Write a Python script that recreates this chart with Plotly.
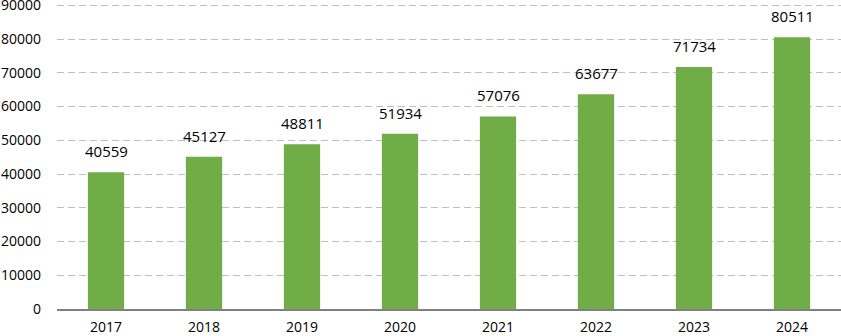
import plotly.graph_objects as go

years = ["2017", "2018", "2019", "2020", "2021", "2022", "2023", "2024"]
values = [40559, 45127, 48811, 51934, 57076, 63677, 71734, 80511]
y_ticks = [0, 10000, 20000, 30000, 40000, 50000, 60000, 70000, 80000, 90000]

fig = go.Figure(go.Bar(
    x=years, y=values,
    marker=dict(color="#70AD47", line=dict(width=0)),
    hoverinfo="x+y",
))
for i, v in enumerate(values):
    fig.add_annotation(x=i, y=v, text=str(v), showarrow=False,
                       yanchor="bottom", yshift=9,
                       font=dict(size=15, color="#000000"))

fig.update_layout(
    width=841, height=336,
    margin=dict(l=57, r=0, t=4, b=27, autoexpand=False),
    paper_bgcolor="white", plot_bgcolor="white",
    font=dict(family="Open Sans", size=15, color="#000000"),
    bargap=0.63,
    showlegend=False,
    xaxis=dict(type="category", range=[-0.5, len(years) - 0.5],
               showline=True, linecolor="#808080", linewidth=1.5, ticks="",
               ticklabelstandoff=4, showgrid=False, automargin=False,
               ticklabeloverflow="allow", tickfont=dict(size=14)),
    yaxis=dict(range=[0, 90400], tickvals=y_ticks, ticktext=[str(t) for t in y_ticks],
               showgrid=True, gridcolor="#BFBFBF", gridwidth=1, griddash="7px,4px",
               zeroline=False, ticks="", ticklabelstandoff=15, showline=False,
               automargin=False, ticklabeloverflow="allow", tickfont=dict(size=14)),
)
fig.write_html("out.html", config={"displayModeBar": False},
               post_script="document.body.style.margin='0';document.body.style.overflow='hidden';")
